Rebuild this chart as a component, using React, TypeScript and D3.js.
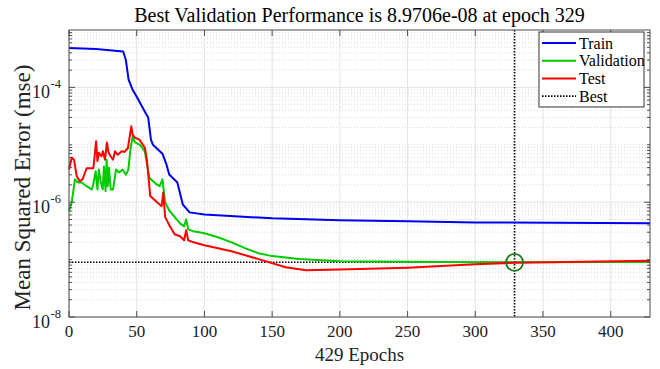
import React from 'react';
import * as d3 from 'd3';

const W = 660;
const H = 369;
const PL = 69, PR = 650, PT = 30, PB = 317;

const totalEpochs = 429;
const bestEpoch = 329;
const bestValue = 8.9706e-8;
const titleText = 'Best Validation Performance is 8.9706e-08 at epoch 329';
const xLabelText = '429 Epochs';
const yLabelText = 'Mean Squared Error  (mse)';

const xTicks = [0, 50, 100, 150, 200, 250, 300, 350, 400];
const yTickExps = [-8, -6, -4];
const yDecades = [-8, -7, -6, -5, -4, -3];

const trainEpochs = [0, 20, 40, 42, 44, 47, 50, 54, 58.5, 60.5, 62, 69, 72, 74, 80, 84, 89, 100, 150, 200, 250, 300, 429];
const trainValues = [4.87e-4, 4.68e-4, 4.23e-4, 3.0e-4, 1.36e-4, 9.1e-5, 6.87e-5, 4.6e-5, 2.96e-5, 1.23e-5, 1.0e-5, 7.0e-6, 4.5e-6, 3.04e-6, 2.2e-6, 9.2e-7, 6.65e-7, 6.1e-7, 5.24e-7, 4.83e-7, 4.64e-7, 4.45e-7, 4.28e-7];

const valEpochs = [0, 2, 4.4, 6.6, 9.4, 13, 16.8, 17.7, 19.7, 21, 22, 23.4, 24.9, 25.8, 27, 27.8, 28.6, 29.5, 30.8, 32.5, 34.7, 37, 39.6, 42, 43.8, 45.5, 47, 48.7, 52.4, 56, 57.6, 59.3, 64.7, 67, 69, 71, 74.5, 79.5, 82, 85, 86.5, 88, 92, 100, 110, 120, 130, 140, 150, 170, 200, 250, 300, 329, 429];
const valValues = [7.0e-7, 9.9e-7, 2.5e-6, 2.2e-6, 2.2e-6, 1.9e-6, 1.67e-6, 1.9e-6, 3.46e-6, 1.67e-6, 3.7e-6, 2.3e-6, 1.67e-6, 4.2e-6, 1.56e-6, 5.5e-6, 1.9e-6, 4.0e-6, 1.67e-6, 1.67e-6, 3.7e-6, 3.3e-6, 3.7e-6, 3.0e-6, 3.7e-6, 8.8e-6, 1.4e-5, 1.1e-5, 1.0e-5, 7.7e-6, 4.6e-6, 2.66e-6, 2.04e-6, 1.9e-6, 2.5e-6, 9.9e-7, 6.9e-7, 5.0e-7, 4.28e-7, 3.8e-7, 5.0e-7, 3.37e-7, 3.11e-7, 2.87e-7, 2.45e-7, 2.0e-7, 1.58e-7, 1.29e-7, 1.15e-7, 1.02e-7, 9.4e-8, 9.15e-8, 9.02e-8, 8.9706e-8, 9.05e-8];

const testEpochs = [0, 2, 3.7, 5.7, 8, 10, 13, 18, 20, 21, 22, 24, 25, 26.6, 28, 29, 30, 32.5, 34, 36, 39, 41, 43.5, 46, 47, 48.7, 52, 56, 57.5, 60, 65, 68.4, 69.6, 71, 74.5, 78, 82, 85, 86.5, 88, 92, 100, 120, 140, 160, 175, 200, 250, 300, 329, 429];
const testValues = [3.7e-6, 6.0e-6, 5.5e-6, 2.84e-6, 2.32e-6, 2.5e-6, 3.9e-6, 3.9e-6, 1.15e-5, 5.2e-6, 7.3e-6, 6.3e-6, 7.7e-6, 5.5e-6, 1.1e-5, 7.7e-6, 6.7e-6, 5.5e-6, 7.7e-6, 6.7e-6, 7.7e-6, 7.5e-6, 8.8e-6, 2.1e-5, 1.5e-5, 1.33e-5, 1.23e-5, 8.9e-6, 5.5e-6, 1.28e-6, 1.0e-6, 8.5e-7, 1.48e-6, 5.5e-7, 3.8e-7, 2.76e-7, 2.55e-7, 2.17e-7, 3.24e-7, 2.17e-7, 2.0e-7, 1.78e-7, 1.4e-7, 1.02e-7, 7.38e-8, 6.55e-8, 6.69e-8, 7.24e-8, 8.32e-8, 8.83e-8, 9.57e-8];

const legendLabels = ['Train', 'Validation', 'Test', 'Best'];
const seriesColors = ['#0000f0', '#00cc00', '#ff0000'];

const FONT = "'Liberation Serif', 'Times New Roman', serif";
const ts: React.CSSProperties = { fontFamily: FONT };

export default function App() {
  const x = d3.scaleLinear().domain([0, totalEpochs]).range([PL, PR]);
  const y = d3.scaleLog().domain([1e-8, 1e-3]).range([PB, PT]);
  const line = d3
    .line<[number, number]>()
    .x((d) => x(d[0]))
    .y((d) => y(d[1]));

  const series = [
    d3.zip(trainEpochs, trainValues) as [number, number][],
    d3.zip(valEpochs, valValues) as [number, number][],
    d3.zip(testEpochs, testValues) as [number, number][],
  ];

  const minorVals: number[] = [];
  yDecades.slice(0, -1).forEach((e) => {
    for (let k = 2; k <= 9; k++) minorVals.push(k * Math.pow(10, e));
  });
  const unlabeledDecades = yDecades.filter((e) => !yTickExps.includes(e) && e !== -3);
  const allMinor = [...minorVals, ...unlabeledDecades.map((e) => Math.pow(10, e))];

  const axisColor = '#4d4d4d';

  return (
    <svg width={W} height={H} style={{ position: 'absolute', left: 0, top: 0, background: '#fff' }}>
      <rect x={0} y={0} width={W} height={H} fill="#fff" />
      {/* minor grid */}
      {allMinor.map((v, i) => (
        <line key={'mg' + i} x1={PL} x2={PR} y1={y(v)} y2={y(v)} stroke="#cfcfcf" strokeWidth={0.8} strokeDasharray="1,2" />
      ))}
      {/* major grid */}
      {xTicks.map((t) => (
        <line key={'gx' + t} x1={x(t)} x2={x(t)} y1={PT} y2={PB} stroke="#e3e3e3" strokeWidth={1} />
      ))}
      {yTickExps.map((e) => (
        <line key={'gy' + e} x1={PL} x2={PR} y1={y(Math.pow(10, e))} y2={y(Math.pow(10, e))} stroke="#e3e3e3" strokeWidth={1} />
      ))}

      {/* best lines */}
      <line x1={x(bestEpoch)} x2={x(bestEpoch)} y1={PT} y2={PB} stroke="#000" strokeWidth={1.6} strokeDasharray="1.5,1.5" />
      <line x1={PL} x2={PR} y1={y(bestValue)} y2={y(bestValue)} stroke="#000" strokeWidth={1.6} strokeDasharray="1.5,1.5" />

      {/* series */}
      {series.map((s, i) => (
        <path key={'s' + i} d={line(s) || ''} fill="none" stroke={seriesColors[i]} strokeWidth={2} strokeLinejoin="round" />
      ))}
      <circle cx={x(bestEpoch)} cy={y(bestValue)} r={8.5} fill="none" stroke="#1b7a1b" strokeWidth={1.8} />

      {/* axes box */}
      <rect x={PL} y={PT} width={PR - PL} height={PB - PT} fill="none" stroke={axisColor} strokeWidth={1} />
      {xTicks.map((t) => (
        <g key={'tx' + t}>
          <line x1={x(t)} x2={x(t)} y1={PB} y2={PB - 6} stroke={axisColor} />
          <line x1={x(t)} x2={x(t)} y1={PT} y2={PT + 6} stroke={axisColor} />
          <text x={x(t)} y={PB + 20} textAnchor="middle" fontSize={17} fill="#222" style={ts}>
            {t}
          </text>
        </g>
      ))}
      {allMinor.map((v, i) => (
        <g key={'mt' + i}>
          <line x1={PL} x2={PL + 3} y1={y(v)} y2={y(v)} stroke={axisColor} />
          <line x1={PR} x2={PR - 3} y1={y(v)} y2={y(v)} stroke={axisColor} />
        </g>
      ))}
      {yTickExps.map((e) => (
        <g key={'ty' + e}>
          <line x1={PL} x2={PL + 6} y1={y(Math.pow(10, e))} y2={y(Math.pow(10, e))} stroke={axisColor} />
          <line x1={PR} x2={PR - 6} y1={y(Math.pow(10, e))} y2={y(Math.pow(10, e))} stroke={axisColor} />
          <text x={50} y={y(Math.pow(10, e)) + 11} textAnchor="end" fontSize={18} fill="#222" style={ts}>
            10
          </text>
          <text x={50.5} y={y(Math.pow(10, e)) + 1} textAnchor="start" fontSize={12.5} fill="#222" style={ts}>
            {'-' + Math.abs(e)}
          </text>
        </g>
      ))}

      {/* legend */}
      <g>
        <rect x={539} y={32} width={105} height={75} fill="#fff" stroke="#333" strokeWidth={1} />
        {legendLabels.map((lab, i) => {
          const ly = 43 + i * 17.7;
          return (
            <g key={'lg' + i}>
              <line
                x1={542}
                x2={576}
                y1={ly}
                y2={ly}
                stroke={i < 3 ? seriesColors[i] : '#000'}
                strokeWidth={i < 3 ? 2 : 1.6}
                strokeDasharray={i < 3 ? undefined : '1.5,1.5'}
              />
              <text x={579} y={ly + 5.5} fontSize={16} fill="#000" style={ts}>
                {lab}
              </text>
            </g>
          );
        })}
      </g>

      {/* labels */}
      <text x={(PL + PR) / 2} y={22} textAnchor="middle" fontSize={20} fill="#000" style={ts}>
        {titleText}
      </text>
      <text x={(PL + PR) / 2} y={361} textAnchor="middle" fontSize={19} fill="#222" style={ts}>
        {xLabelText}
      </text>
      <text
        transform={`translate(30, ${(PT + PB) / 2 + 14}) rotate(-90)`}
        textAnchor="middle"
        fontSize={23}
        fill="#222"
        style={ts}
      >
        {yLabelText}
      </text>
    </svg>
  );
}
